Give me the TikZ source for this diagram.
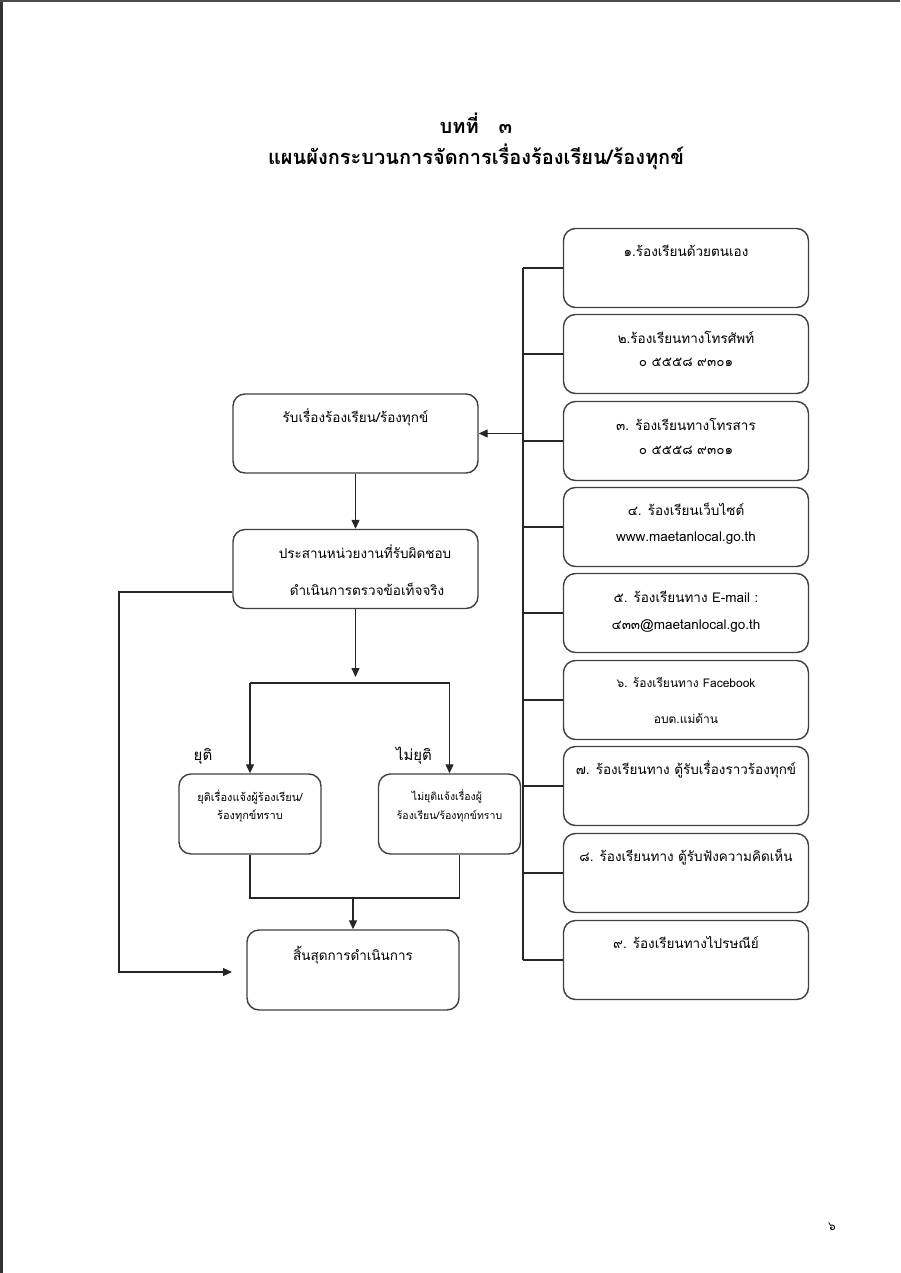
\documentclass[tikz,border=0pt]{standalone}
\usepackage{fontspec}
\setmainfont[Script=Thai]{Loma}
\usetikzlibrary{arrows.meta,calc}
\begin{document}
\begin{tikzpicture}[x=1pt,y=-1pt,
  bx/.style={draw=black!75, line width=1.4pt, rounded corners=12pt, inner sep=0pt},
  rbox/.style={bx, minimum width=245pt, minimum height=79pt},
  sbox/.style={bx, minimum width=142pt, minimum height=80pt},
  ln/.style={draw=black!85, line width=1.3pt},
  arr/.style={ln, -{Triangle[length=9pt,width=8pt]}},
  tx/.style={inner sep=0pt, font=\fontsize{13.5}{16}\selectfont},
  sx/.style={inner sep=0pt, font=\fontsize{11}{13}\selectfont},
  ttl/.style={inner sep=0pt, font=\fontsize{20}{23}\selectfont\bfseries}]
\useasboundingbox (0,0) rectangle (900,1273);
\fill[white] (0,0) rectangle (900,1273);
% page edges
\draw[black!80, line width=3pt] (1.5,0) -- (1.5,1273);
\draw[black!70, line width=1.5pt] (0,1) -- (900,1);
% title
\node[ttl] (title1) at (476,123) {บทที่\quad ๓};
\node[ttl] (title2) at (476,157) {แผนผังกระบวนการจัดการเรื่องร้องเรียน/ร้องทุกข์};
% right boxes
\node[rbox] (r1) at (686,268) {};
\node[rbox] (r2) at (686,354) {};
\node[rbox] (r3) at (686,441) {};
\node[rbox] (r4) at (686,527) {};
\node[rbox] (r5) at (686,613) {};
\node[rbox] (r6) at (686,700) {};
\node[rbox] (r7) at (686,786) {};
\node[rbox] (r8) at (686,873) {};
\node[rbox] (r9) at (686,960) {};
\node[tx] (r1t) at (686,251) {๑.ร้องเรียนด้วยตนเอง};
\node[tx] (r2t) at (686,337) {๒.ร้องเรียนทางโทรศัพท์};
\node[tx] (r2n) at (686,362) {๐ ๕๕๕๘ ๙๓๐๑};
\node[tx] (r3t) at (686,424) {๓. ร้องเรียนทางโทรสาร};
\node[tx] (r3n) at (686,450) {๐ ๕๕๕๘ ๙๓๐๑};
\node[tx] (r4t) at (686,509) {๔. ร้องเรียนเว็บไซต์};
\node[tx] (r4n) at (686,538) {www.maetanlocal.go.th};
\node[tx] (r5t) at (686,597) {๕. ร้องเรียนทาง E-mail :};
\node[tx] (r5n) at (686,626) {๔๓๓@maetanlocal.go.th};
\node[sx, font=\fontsize{12}{14}\selectfont] (r6t) at (686,682) {๖. ร้องเรียนทาง Facebook};
\node[sx, font=\fontsize{12}{14}\selectfont] (r6n) at (686,719) {อบต.แม่ด้าน};
\node[tx] (r7t) at (686,769) {๗. ร้องเรียนทาง ตู้รับเรื่องราวร้องทุกข์};
\node[tx] (r8t) at (686,857) {๘. ร้องเรียนทาง ตู้รับฟังความคิดเห็น};
\node[tx] (r9t) at (686,942) {๙. ร้องเรียนทางไปรษณีย์};
% trunk
\coordinate (tk) at (523,0);
\draw[ln] (r1.west -| tk) -- (r9.west -| tk);
\foreach \i in {1,...,9} {\draw[ln] (r\i.west -| tk) -- (r\i.west);}
% left boxes
\node[rbox] (b1) at (355.5,433.5) {};
\node[tx] (b1t) at (355.5,417) {รับเรื่องร้องเรียน/ร้องทุกข์};
\node[rbox] (b2) at (355.5,569) {};
\node[tx] (b2t) at (365,552) {ประสานหน่วยงานที่รับผิดชอบ};
\node[tx] (b2u) at (367,589) {ดำเนินการตรวจข้อเท็จจริง};
\draw[arr] (b1.east -| tk) -- (b1.east);
\draw[arr] (b1.south) -- (b2.north);
\coordinate (sp) at (355.5,677);
\draw[arr] (b2.south) -- (sp);
\node[sbox] (by) at (250,814) {};
\node[sx] (byt) at (250,797) {ยุติเรื่องแจ้งผู้ร้องเรียน/};
\node[sx] (byu) at (250,816) {ร้องทุกข์ทราบ};
\node[sbox] (bn) at (449.5,814) {};
\node[sx, font=\fontsize{10.5}{13}\selectfont] (bnt) at (447,796) {ไม่ยุติแจ้งเรื่องผู้};
\node[sx, font=\fontsize{10.5}{13}\selectfont] (bnu) at (449.5,816) {ร้องเรียน/ร้องทุกข์ทราบ};
\node[tx, font=\fontsize{15}{18}\selectfont] (ly) at (203,756) {ยุติ};
\node[tx, font=\fontsize{15}{18}\selectfont] (ln) at (414,756) {ไม่ยุติ};
\coordinate (hl) at (0,683);
\draw[arr] (by.north |- hl) -- (by.north);
\draw[arr] (by.north |- hl) -- (bn.north |- hl) -- (bn.north);
% end box
\node[bx, minimum width=212pt, minimum height=80pt] (e) at (353,970) {};
\node[tx] (et) at (353,955) {สิ้นสุดการดำเนินการ};
\coordinate (jn) at (0,898);
\draw[ln] (by.south) -- (by.south |- jn) -- (jn -| e.north east) -- (e.north east |- bn.south);
\draw[arr] (e.north |- jn) -- (e.north);
\coordinate (lp) at (119,592);
\coordinate (la) at (232,972);
\draw[arr] (b2.west |- lp) -- (lp) -- (lp |- la) -- (la);
% page number
\node[sx, font=\fontsize{12}{14}\selectfont] (pg) at (832,1227) {๖};
\end{tikzpicture}
\end{document}
